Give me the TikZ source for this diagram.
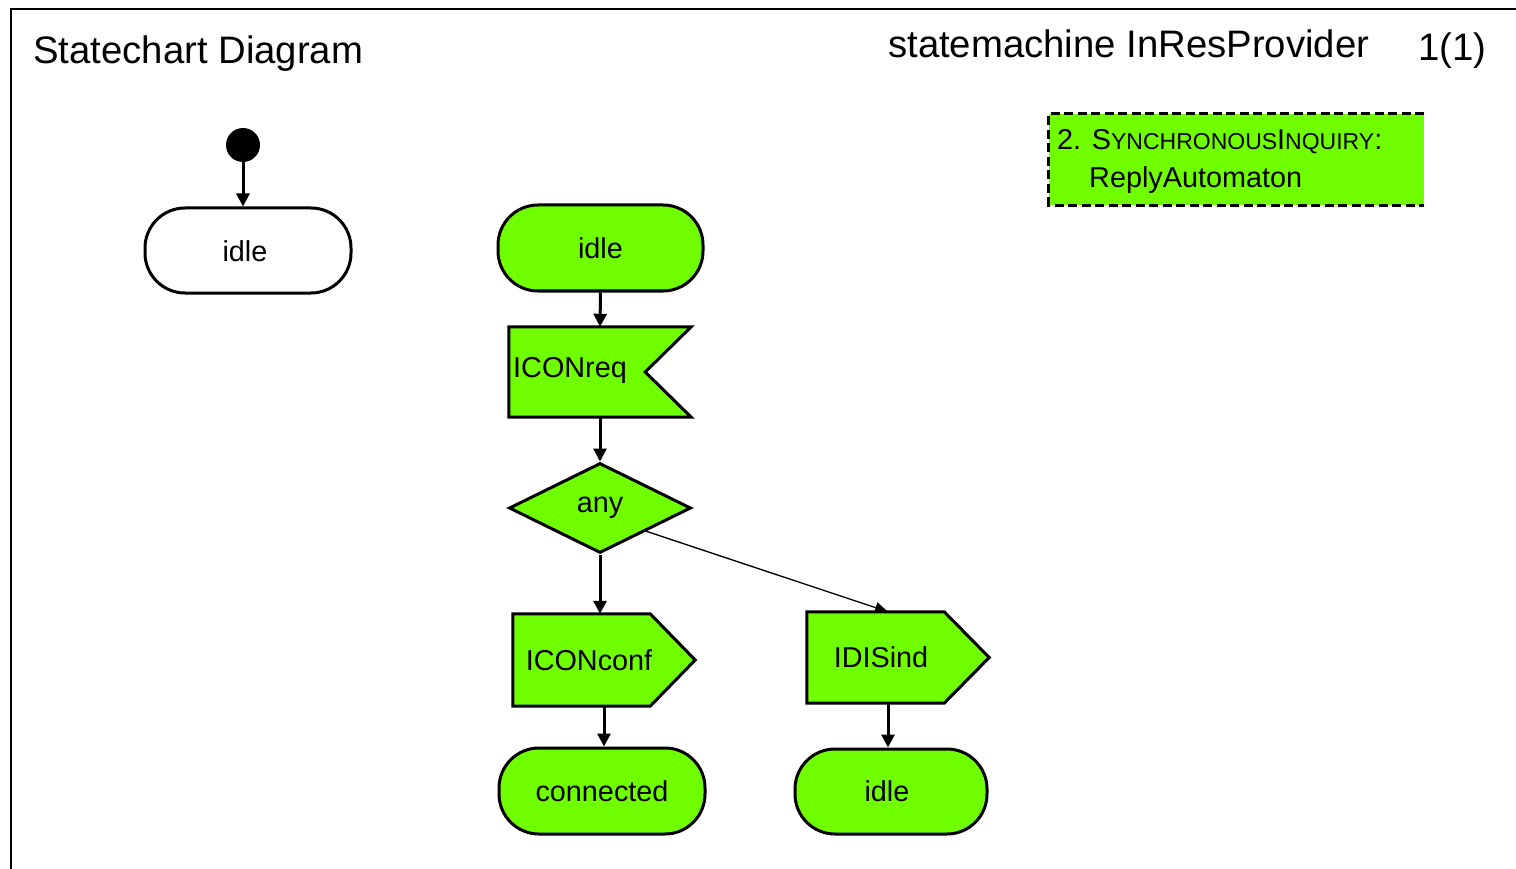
\documentclass[tikz,border=0pt]{standalone}
\usepackage{fontspec}
\setmainfont{Liberation Sans}
\usetikzlibrary{shapes.geometric,arrows.meta,calc,backgrounds}

\definecolor{grn}{RGB}{112,255,0}
\newcommand\ttlfont{\fontsize{38.3}{44}\selectfont}
\newcommand\lblfont{\fontsize{28.8}{34}\selectfont}
\newcommand\smcap[1]{{\fontsize{23}{26}\selectfont #1}}

\tikzset{
  outline/.style={draw=black, line width=3pt, fill=grn, line join=miter},
  statebox/.style={rectangle, rounded corners=40pt, outline, minimum height=86pt,
                   inner sep=0pt, font=\lblfont},
  sigbox/.style={rectangle, minimum width=182pt, minimum height=90pt, inner sep=0pt},
  txt/.style={inner sep=0pt, font=\lblfont},
  flow/.style={-{Triangle[length=13pt,width=13pt]}, line width=3pt},
  thinflow/.style={-{Triangle[length=13pt,width=11pt]}, line width=1.3pt},
}

\begin{document}
\begin{tikzpicture}[x=1pt,y=-1pt]
\useasboundingbox (0,0) rectangle (1516,869);

% frame
\draw[line width=2.2pt] (1516,9) -- (11,9) -- (11,869);

% heading
\node[inner sep=0pt, font=\ttlfont, anchor=base west] (title) at (33,64) {Statechart Diagram};
\node[inner sep=0pt, font=\ttlfont, anchor=base west] (smname) at (888,58) {statemachine InResProvider};
\node[inner sep=0pt, font=\ttlfont, anchor=base west] (page) at (1418,61) {1(1)};

% note
\node[rectangle, fill=grn, minimum width=375pt, minimum height=91pt, inner sep=0pt] (note) at (1236.5,159.5) {};
\draw[line width=3pt, dash pattern=on 9pt off 4.5pt]
  (note.north east) -- (note.north west) -- (note.south west) -- (note.south east);
\node[txt, anchor=base west] (note1) at (1057,150) {2. S\smcap{YNCHRONOUS}I\smcap{NQUIRY}:};
\node[txt, anchor=base west] (note2) at (1089,188) {ReplyAutomaton};

% initial state
\node[circle, fill=black, minimum size=34pt, inner sep=0pt] (init) at (243,145) {};
\node[statebox, fill=white, minimum width=206pt, minimum height=85pt] (idle0) at (248,250.5) {};
\node[txt] (idle0txt) at (245,251) {idle};
\draw[flow] (init.south) -- (init.south |- idle0.north);

% transition
\node[statebox, minimum width=205pt] (idle1) at (600.5,248) {idle};

\node[sigbox] (req) at (600,372) {};
\node[sigbox, minimum height=92pt] (conf) at (604,660) {};
\node[sigbox, minimum height=91pt] (dis) at (898,657.5) {};

\begin{scope}[on background layer]
  \path[outline] (req.north west) -- (req.north east) -- ($(req.east)+(-46,0)$)
    -- (req.south east) -- (req.south west) -- cycle;
  \path[outline] (conf.north west) -- ($(conf.north east)+(-45,0)$) -- (conf.east)
    -- ($(conf.south east)+(-45,0)$) -- (conf.south west) -- cycle;
  \path[outline] (dis.north west) -- ($(dis.north east)+(-45,0)$) -- (dis.east)
    -- ($(dis.south east)+(-45,0)$) -- (dis.south west) -- cycle;
\end{scope}

\node[txt, anchor=base west] (reqtxt) at (513,377) {ICONreq};
\node[txt, anchor=base] (conftxt) at (589,670) {ICONconf};
\node[txt, anchor=base] (distxt) at (881,667) {IDISind};

\node[diamond, outline, minimum width=182pt, minimum height=90pt, inner sep=0pt,
      aspect=2, font=\lblfont] (any) at (600,508) {any};

\node[statebox, minimum width=206pt] (connected) at (602,791) {connected};
\node[statebox, minimum width=192pt, minimum height=85pt] (idle2) at (891,791.5) {};
\node[txt] (idle2txt) at (887,791) {idle};

\draw[flow] (idle1.south) -- (req.north);
\draw[flow] (req.south) -- (any.north);
\draw[flow] (any.south) -- (any.south |- conf.north);
\draw[thinflow] (any.south east) -- ([xshift=-10pt]dis.north);
\draw[flow] (conf.south) -- (conf.south |- connected.north);
\draw[flow] ([xshift=-10pt]dis.south) -- ([xshift=-10pt]dis.south |- idle2.north);
\end{tikzpicture}
\end{document}
